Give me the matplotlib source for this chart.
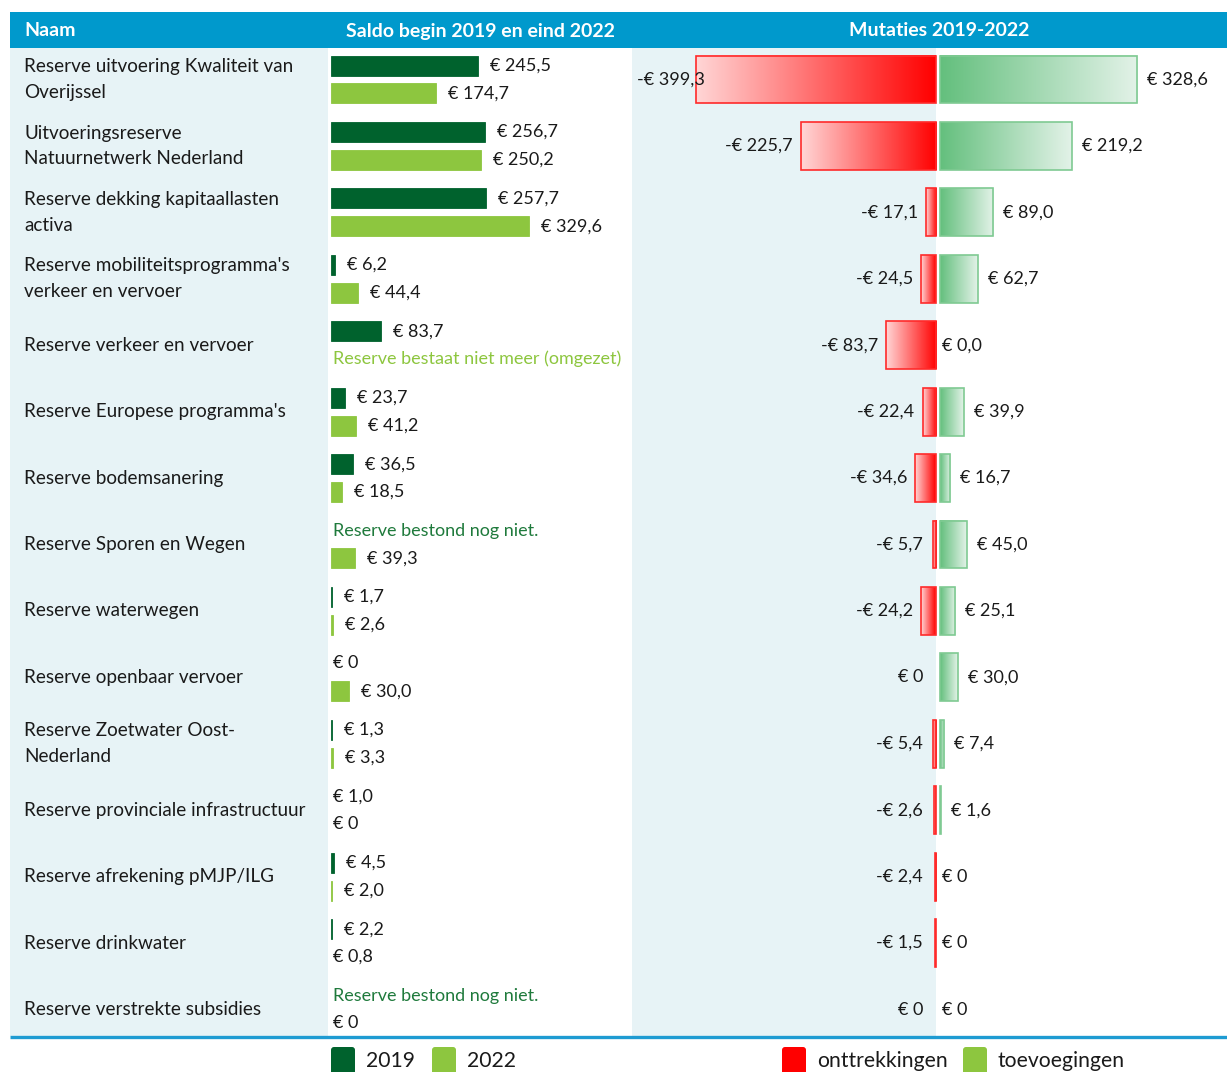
import numpy as np
import matplotlib
matplotlib.use("Agg")
import matplotlib.pyplot as plt
from matplotlib.patches import Rectangle, FancyBboxPatch

# 1. Data (bedragen x € 1 miljoen)
# -----------------------------------------------------------------------------
names = [
    "Reserve uitvoering Kwaliteit van\nOverijssel",
    "Uitvoeringsreserve\nNatuurnetwerk Nederland",
    "Reserve dekking kapitaallasten\nactiva",
    "Reserve mobiliteitsprogramma's\nverkeer en vervoer",
    "Reserve verkeer en vervoer",
    "Reserve Europese programma's",
    "Reserve bodemsanering",
    "Reserve Sporen en Wegen",
    "Reserve waterwegen",
    "Reserve openbaar vervoer",
    "Reserve Zoetwater Oost-\nNederland",
    "Reserve provinciale infrastructuur",
    "Reserve afrekening pMJP/ILG",
    "Reserve drinkwater",
    "Reserve verstrekte subsidies",
]
saldo_2019 = [245.5, 256.7, 257.7, 6.2, 83.7, 23.7, 36.5, None, 1.7, 0, 1.3, 1.0, 4.5, 2.2, None]
saldo_2022 = [174.7, 250.2, 329.6, 44.4, None, 41.2, 18.5, 39.3, 2.6, 30.0, 3.3, 0, 2.0, 0.8, 0]
onttrekkingen = [-399.3, -225.7, -17.1, -24.5, -83.7, -22.4, -34.6, -5.7, -24.2, 0, -5.4, -2.6, -2.4, -1.5, 0]
toevoegingen = [328.6, 219.2, 89.0, 62.7, 0.0, 39.9, 16.7, 45.0, 25.1, 30.0, 7.4, 1.6, 0, 0, 0]

txt_niet_meer = "Reserve bestaat niet meer (omgezet)"
txt_nog_niet = "Reserve bestond nog niet."

# 2. Styling
# -----------------------------------------------------------------------------
plt.rcParams['font.family'] = ['Lato', 'DejaVu Sans']
W, H = 1227, 1072
px = 0.6  # pixels per miljoen euro

blue = '#0099CC'
light_bg = '#E7F3F6'
dark_green = '#00622D'
light_green = '#8DC63F'
text_col = '#1A1A1A'
fs_val = 13.0
fs_name = 13.6


def fmt(v):
    if isinstance(v, int) and v == 0:
        return "€ 0"
    s = f"{abs(v):.1f}".replace('.', ',')
    return ("-€ " if v < 0 else "€ ") + s


fig = plt.figure(figsize=(W / 100, H / 100), dpi=100)

# background layer in pixel coordinates (header, column fills, legend)
bg = fig.add_axes([0, 0, 1, 1])
bg.set_xlim(0, W)
bg.set_ylim(H, 0)
bg.axis('off')

bg.add_patch(Rectangle((10, 12), W - 10, 36, color=blue, lw=0))
bg.add_patch(Rectangle((10, 48), 318, 988, color=light_bg, lw=0))
bg.add_patch(Rectangle((632, 48), 304, 988, color=light_bg, lw=0))
bg.plot([10, W], [1036.5, 1036.5], color='#1E9BD2', lw=2.4, solid_capstyle='butt')

bg.text(24, 31, "Naam", color='white', fontsize=14, fontweight='bold', va='center')
bg.text(480, 31, "Saldo begin 2019 en eind 2022", color='white', fontsize=14,
        fontweight='bold', va='center', ha='center')
bg.text(939, 31, "Mutaties 2019-2022", color='white', fontsize=14,
        fontweight='bold', va='center', ha='center')

# legend
legend_items = [(331, dark_green, "2019"), (432, light_green, "2022"),
                (782, '#FF0000', "onttrekkingen"), (963, light_green, "toevoegingen")]
for x0, c, lab in legend_items:
    bg.add_patch(FancyBboxPatch((x0, 1047), 24, 30, boxstyle="round,pad=0,rounding_size=3",
                                color=c, lw=0, clip_on=False))
    bg.text(x0 + 35, 1061, lab, fontsize=15.2, color=text_col, va='center')

# 3. Row axes
# -----------------------------------------------------------------------------
n = len(names)
rows = np.arange(n)
row_h = 66.43
top_px, bot_px, c0 = 48, 1037, 79.5
ylims = ((bot_px - c0) / row_h, (top_px - c0) / row_h)


def axes_px(x0, x1):
    return fig.add_axes([x0 / W, 1 - bot_px / H, (x1 - x0) / W, (bot_px - top_px) / H])


ax_n = axes_px(10, 328)
ax_s = axes_px(328, 632)
ax_m = axes_px(632, W)
for ax in (ax_n, ax_s, ax_m):
    ax.patch.set_alpha(0)
    ax.axis('off')

# names
for i, name in zip(rows, names):
    ax_n.text(14, i, name, fontsize=fs_name, color=text_col, va='center', ha='left',
              linespacing=1.62)
ax_n.set_xlim(0, 318)
ax_n.set_ylim(*ylims)

# 4. Saldo 2019 / 2022
# -----------------------------------------------------------------------------
off = 0.21
bh = 0.30
for vals, dy, col in [(saldo_2019, -off, dark_green), (saldo_2022, off, light_green)]:
    for i, v in enumerate(vals):
        if v is None:
            continue
        if v > 1.0:
            ax_s.barh(i + dy, v, height=bh, left=0, color=col, edgecolor=col, lw=0.6)
            ax_s.text(v + 12 / px, i + dy, fmt(v), fontsize=fs_val, color=text_col, va='center')
        else:
            ax_s.text(2 / px, i + dy, fmt(v), fontsize=fs_val, color=text_col, va='center')

for i, v in enumerate(saldo_2019):
    if v is None:
        ax_s.text(2 / px, i - off, txt_nog_niet, fontsize=fs_val, color='#1F7A3C', va='center')
for i, v in enumerate(saldo_2022):
    if v is None:
        ax_s.text(2 / px, i + off, txt_niet_meer, fontsize=fs_val, color=light_green,
                  va='center', clip_on=False)

ax_s.set_xlim(-3 / px, 301 / px)
ax_s.set_ylim(*ylims)

# 5. Mutaties: onttrekkingen (links) en toevoegingen (rechts)
# -----------------------------------------------------------------------------
mh = 0.72
gap = 4 / px
t = np.linspace(0, 1, 256)[None, :, None]
red_grad = (1 - t) * np.array([1.0, 0.84, 0.84]) + t * np.array([1.0, 0.0, 0.0])
green_grad = (1 - t) * np.array([0.39, 0.75, 0.49]) + t * np.array([0.89, 0.95, 0.91])
xmin_m, xmax_m = -304 / px, 291 / px

for i, v in enumerate(onttrekkingen):
    if v < 0:
        ax_m.imshow(red_grad, extent=(v, 0, i + mh / 2, i - mh / 2), aspect='auto',
                    interpolation='bilinear', zorder=2)
        ax_m.add_patch(Rectangle((v, i - mh / 2), -v, mh, fill=False,
                                 edgecolor='#FF2A2A', lw=1.2, zorder=3))
    right = min(v - 8 / px, -13 / px)
    if right - 76 / px < xmin_m:
        ax_m.text(xmin_m + 5 / px, i, fmt(v), fontsize=fs_val, color=text_col,
                  va='center', ha='left', zorder=4)
    else:
        ax_m.text(right, i, fmt(v), fontsize=fs_val, color=text_col, va='center', ha='right')

for i, v in enumerate(toevoegingen):
    if v > 0:
        ax_m.imshow(green_grad, extent=(gap, gap + v, i + mh / 2, i - mh / 2), aspect='auto',
                    interpolation='bilinear', zorder=2)
        ax_m.add_patch(Rectangle((gap, i - mh / 2), v, mh, fill=False,
                                 edgecolor='#7FCA92', lw=1.2, zorder=3))
        ax_m.text(gap + v + 10 / px, i, fmt(v), fontsize=fs_val, color=text_col, va='center')
    else:
        ax_m.text(gap + 2 / px, i, fmt(v), fontsize=fs_val, color=text_col, va='center')

ax_m.set_xlim(xmin_m, xmax_m)
ax_m.set_ylim(*ylims)

fig.savefig("out.png", dpi=100)
